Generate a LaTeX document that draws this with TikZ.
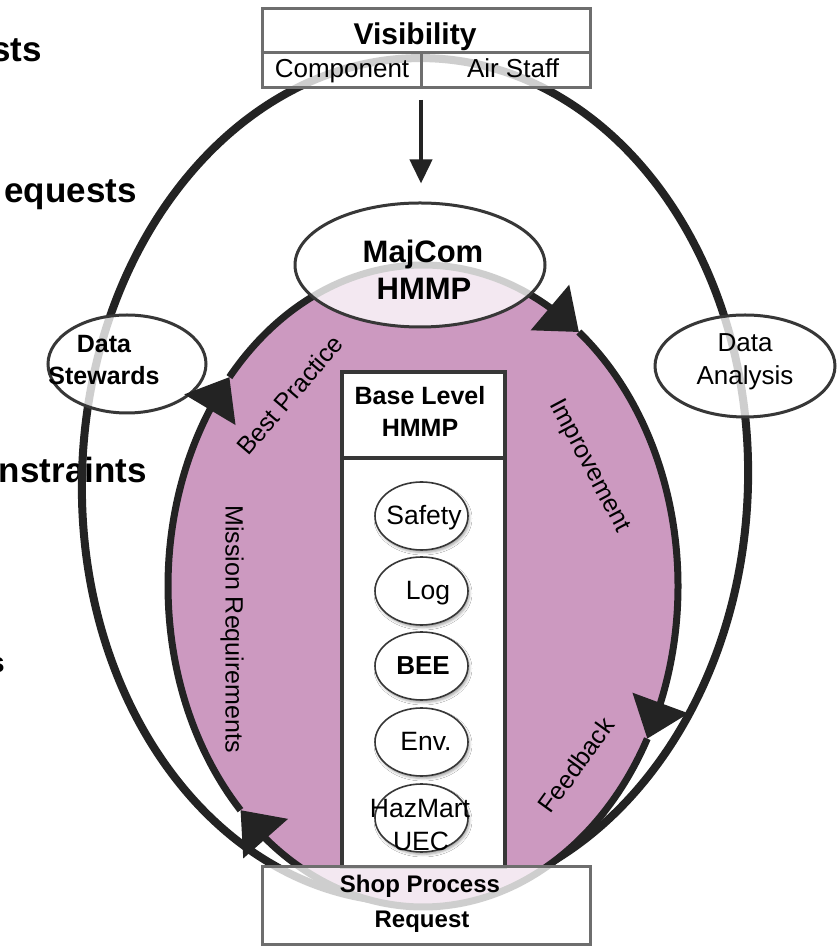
\documentclass[tikz,border=0pt]{standalone}
\usepackage{fontspec}
\setmainfont{Liberation Sans}
\usetikzlibrary{arrows.meta,bending,shapes.geometric,shadows.blur,calc}
\definecolor{ringc}{RGB}{35,35,35}
\definecolor{pinkc}{RGB}{204,153,192}
\definecolor{boxgrey}{RGB}{110,110,110}
\definecolor{edgec}{RGB}{55,55,55}
\newcommand\myfs[1]{\fontsize{#1}{#1}\selectfont}
\begin{document}
\begin{tikzpicture}[x=1pt,y=1pt,
  ringline/.style={draw=ringc, line width=7pt},
  ringarrow/.style={ringline, -{Triangle[length=38pt,width=58pt]}},
  outerring/.style={draw=ringc, line width=8pt},
  veil/.style={fill=white, fill opacity=0.78},
  greybox/.style={rectangle, draw=boxgrey, line width=3pt, veil, inner sep=0pt},
  bigoval/.style={ellipse, draw=edgec, line width=3pt, veil, inner sep=0pt},
  smalloval/.style={ellipse, draw=edgec, line width=1.6pt, fill=white, inner sep=0pt,
     minimum width=93pt, minimum height=68pt,
     blur shadow={shadow xshift=1.5pt, shadow yshift=-2.5pt, shadow blur radius=2.5pt, shadow opacity=35}},
  regtxt/.style={inner sep=0pt, anchor=base, font=\myfs{25}},
  boldtxt/.style={inner sep=0pt, anchor=base, font=\myfs{25}\bfseries},
  ovtxt/.style={inner sep=0pt, anchor=base, font=\myfs{26.5}},
  fragtxt/.style={inner sep=0pt, anchor=base east, font=\myfs{35}\bfseries},
  varrow/.style={draw=ringc, line width=4pt, -{Triangle[length=24pt,width=22pt]}}
]
\useasboundingbox (0,0) rectangle (837,948);
\fill[white] (0,0) rectangle (837,948);

% cropped texts at the left edge
\node[fragtxt] (f1) at (42,886) {sts};
\node[fragtxt] (f2) at (137,745) {equests};
\node[fragtxt] (f3) at (147,465) {nstraints};
\node[fragtxt, font=\myfs{28}\bfseries] (f4) at (5,275) {s};

% rings
\coordinate (oc) at (415,468);
\coordinate (ic) at (423,362);
\draw[outerring, rotate around={-2:(oc)}] (oc) ellipse [x radius=333pt, y radius=422pt];
\fill[pinkc] (ic) ellipse [x radius=255pt, y radius=321pt];

% side ovals
\node[bigoval, minimum width=158pt, minimum height=98pt] (ds) at (127,584) {};
\node[boldtxt] (dsa) at (104,595) {Data};
\node[boldtxt] (dsb) at (104,563) {Stewards};
\node[bigoval, minimum width=180pt, minimum height=102pt] (da) at (745,582) {};
\node[regtxt, font=\myfs{26}] (daa) at (745,596) {Data};
\node[regtxt, font=\myfs{26}] (dab) at (745,563) {Analysis};

% inner ring with clockwise arrows
\draw[ringarrow] ($(ic)+(139.4:255pt and 321pt)$) arc[start angle=139.4, end angle=52.3, x radius=255pt, y radius=321pt];
\draw[ringarrow] ($(ic)+(52.3:255pt and 321pt)$) arc[start angle=52.3, end angle=-28.4, x radius=255pt, y radius=321pt];
\draw[ringarrow] ($(ic)+(-28.4:255pt and 321pt)$) arc[start angle=-28.4, end angle=-135.7, x radius=255pt, y radius=321pt];
\draw[ringarrow] ($(ic)+(-135.7:255pt and 321pt)$) arc[start angle=-135.7, end angle=-220.6, x radius=255pt, y radius=321pt];

% ring labels
\node[regtxt, anchor=center, rotate=49.5] (lbp) at (290,553) {Best Practice};
\node[regtxt, anchor=center, rotate=-90] (lmr) at (232,319) {Mission Requirements};
\node[regtxt, anchor=center, rotate=-62] (lim) at (589,482) {Improvement};
\node[regtxt, anchor=center, rotate=54] (lfb) at (576,183) {Feedback};

% base level column
\node[rectangle, draw=edgec, line width=4pt, fill=white, inner sep=0pt,
      minimum width=163pt, minimum height=495pt] (base) at (423.5,328.5) {};
\coordinate (hl) at (0,490);
\draw[edgec, line width=4pt] (base.west |- hl) -- (base.east |- hl);
\node[boldtxt] (bl1) at (420,543) {Base Level};
\node[boldtxt] (bl2) at (420,511) {HMMP};

\node[smalloval] (o1) at (421.5,432) {};
\node[ovtxt] (t1) at (424,423) {Safety};
\node[smalloval] (o2) at (421.5,357) {};
\node[ovtxt] (t2) at (428,348) {Log};
\node[smalloval] (o3) at (421.5,282) {};
\node[ovtxt, font=\myfs{26}\bfseries] (t3) at (423,273) {BEE};
\node[smalloval] (o4) at (421.5,206) {};
\node[ovtxt] (t4) at (426,197) {Env.};
\node[smalloval] (o5) at (421.5,130) {};
\node[ovtxt] (t5a) at (420,130) {HazMart};
\node[ovtxt] (t5b) at (421,97) {UEC};

% MajCom
\node[bigoval, minimum width=250pt, minimum height=124pt] (majcom) at (420,683) {};
\node[boldtxt, font=\myfs{31}\bfseries] (mc1) at (423,685) {MajCom};
\node[boldtxt, font=\myfs{31}\bfseries] (mc2) at (424,648) {HMMP};

% Visibility box
\node[greybox, minimum width=328pt, minimum height=79pt] (vis) at (426,899.5) {};
\coordinate (vh) at (0,895);
\coordinate (vdivt) at (421,895);
\coordinate (vdivb) at (421,860);
\draw[boxgrey, line width=3pt] (vis.west |- vh) -- (vis.east |- vh);
\draw[boxgrey, line width=3pt] (vdivt) -- (vdivb);
\node[boldtxt, font=\myfs{30}\bfseries] (vt) at (415,903) {Visibility};
\node[regtxt, font=\myfs{26}] (vc) at (342,870) {Component};
\node[regtxt, font=\myfs{26}] (va) at (513,870) {Air Staff};

% Shop box
\node[greybox, minimum width=328pt, minimum height=78pt] (shop) at (426,42) {};
\node[boldtxt, font=\myfs{24}\bfseries] (sp1) at (420,55) {Shop Process};
\node[boldtxt, font=\myfs{24}\bfseries] (sp2) at (422,20) {Request};

% visibility arrow
\draw[varrow] ([yshift=-12pt]vdivb) -- ([yshift=18pt]vdivb |- majcom.north);
\end{tikzpicture}
\end{document}
